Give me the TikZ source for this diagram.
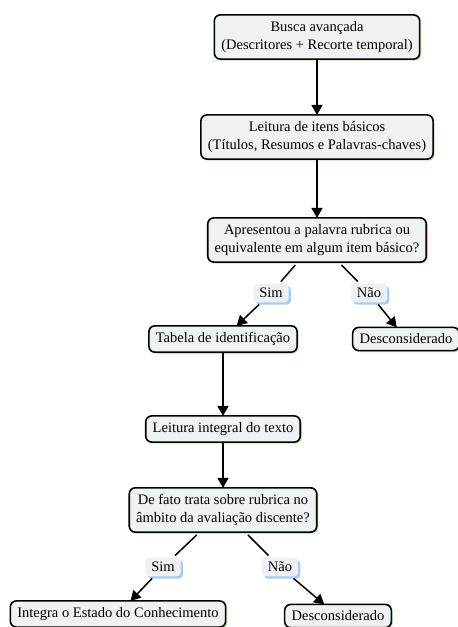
\documentclass[tikz,border=0pt]{standalone}
\usepackage{xcolor}
\usepackage{fontspec}
\setmainfont{Liberation Serif}
\usepackage{tikz}
\usetikzlibrary{shadows,arrows.meta}

\definecolor{boxfill}{HTML}{EEF2F3}
\definecolor{boxglow}{HTML}{BCEFAE}
\definecolor{tagfill}{HTML}{EEF0F4}
\definecolor{tagglow}{HTML}{A8CBF2}

\tikzset{
  stepbox/.style={draw=black, line width=1.6pt, rounded corners=6pt, fill=boxfill,
    align=center, inner xsep=7pt, inner ysep=6.5pt, outer sep=0pt,
    font=\fontsize{14.5}{18}\selectfont,
    drop shadow={shadow xshift=1.6pt, shadow yshift=-1.6pt, fill=boxglow, opacity=1}},
  answer/.style={fill=tagfill, rounded corners=4pt, inner xsep=6pt, inner ysep=4.5pt,
    outer sep=2pt, font=\fontsize{14.5}{18}\selectfont,
    drop shadow={shadow xshift=2.2pt, shadow yshift=-2.2pt, fill=tagglow, opacity=1}},
  link/.style={line width=1.5pt, -{Triangle[length=10pt,width=11pt]}},
  plain/.style={line width=1.5pt, shorten <=4pt}
}

\begin{document}
\begin{tikzpicture}[x=1pt,y=-1pt]
  \useasboundingbox (0,0) rectangle (458,627) ;
  %
  \node[stepbox] (busca) at (317,37) {Busca avançada\\(Descritores + Recorte temporal)} ;
  \node[stepbox] (itens) at (317,137) {Leitura de itens básicos\\(Títulos, Resumos e Palavras-chaves)} ;
  \node[stepbox] (ask1) at (317,240) {Apresentou a palavra rubrica ou\\equivalente em algum item básico?} ;
  %
  \node[answer] (sim1) at (271,293) {Sim} ;
  \node[answer] (nao1) at (369,293) {Não} ;
  %
  \node[stepbox] (tabela) at (223,339) {Tabela de identificação} ;
  \node[stepbox] (fora1) at (406,339) {Desconsiderado} ;
  \node[stepbox] (integral) at (223,429) {Leitura integral do texto} ;
  \node[stepbox] (ask2) at (223,510) {De fato trata sobre rubrica no\\âmbito da avaliação discente?} ;
  %
  \node[answer] (sim2) at (163,567) {Sim} ;
  \node[answer] (nao2) at (280,567) {Não} ;
  %
  \node[stepbox] (integra) at (118,614) {Integra o Estado do Conhecimento} ;
  \node[stepbox] (fora2) at (338,616) {Desconsiderado} ;
  %
  \draw[link] (busca) -- (itens) ;
  \draw[link] (itens) -- (ask1) ;
  \draw[plain] (ask1) -- (sim1) ;
  \draw[link] (sim1) -- (tabela) ;
  \draw[plain] (ask1) -- (nao1) ;
  \draw[link] (nao1) -- (fora1) ;
  \draw[link] (tabela) -- (integral) ;
  \draw[link] (integral) -- (ask2) ;
  \draw[plain] (ask2) -- (sim2) ;
  \draw[link] (sim2) -- (integra) ;
  \draw[plain] (ask2) -- (nao2) ;
  \draw[link] (nao2) -- (fora2) ;
\end{tikzpicture}
\end{document}
